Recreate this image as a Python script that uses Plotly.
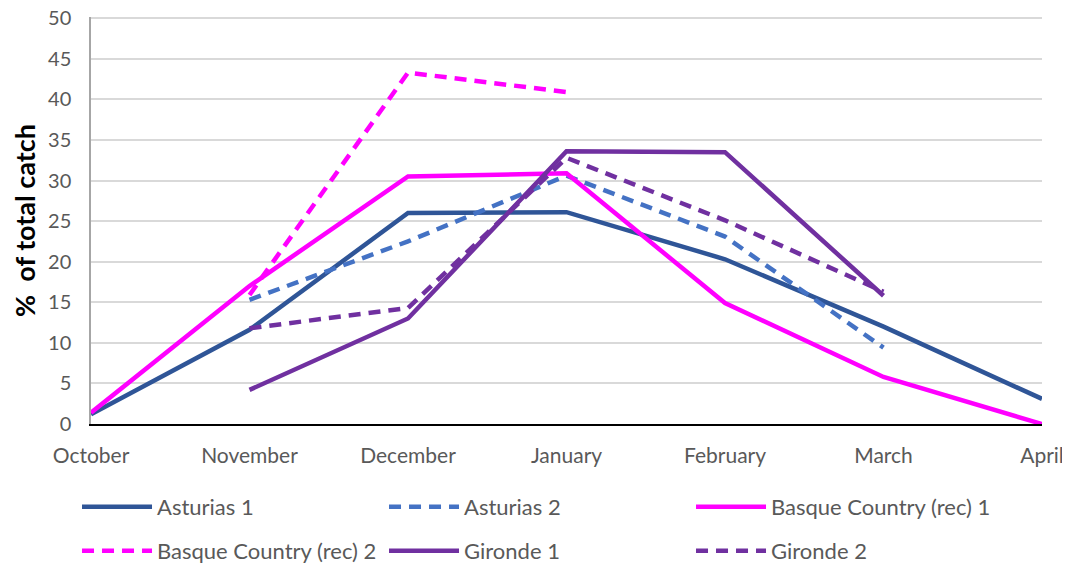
import plotly.graph_objects as go

months = ["October", "November", "December", "January", "February", "March", "April"]

asturias1 = [1.2, 11.6, 26.0, 26.1, 20.3, 12.0, 3.1]
asturias2 = [None, 15.3, 22.5, 30.6, 23.1, 9.4, None]
basque1 = [1.4, 17.0, 30.5, 30.9, 14.9, 5.8, 0.0]
basque2 = [None, 15.9, 43.3, 40.9, None, None, None]
gironde1 = [None, 4.2, 13.0, 33.6, 33.5, 15.8, None]
gironde2 = [None, 11.8, 14.3, 32.8, 25.1, 16.3, None]

series = [
    ("Asturias 1", asturias1, "#2F5597", "solid", "legend"),
    ("Asturias 2", asturias2, "#4472C4", "12px,8px", "legend"),
    ("Basque Country (rec) 1", basque1, "#FF00FF", "solid", "legend"),
    ("Basque Country (rec) 2", basque2, "#FF00FF", "12px,8px", "legend2"),
    ("Gironde 1", gironde1, "#7030A0", "solid", "legend2"),
    ("Gironde 2", gironde2, "#7030A0", "12px,8px", "legend2"),
]

FONT = "Lato"
W, H = 1070, 567
OFF = 8  # page body margin offset

fig = go.Figure()
for name, vals, color, dash, lg in series:
    fig.add_trace(go.Scatter(
        x=months, y=vals, name=name, mode="lines",
        line=dict(color=color, width=4.5, dash=dash),
        connectgaps=False, legend=lg,
    ))

legend_common = dict(
    orientation="h", xanchor="left", yanchor="middle",
    xref="container", yref="container",
    font=dict(family=FONT, size=22, color="#595959"),
    itemwidth=70, entrywidthmode="pixels", entrywidth=222,
    bgcolor="rgba(0,0,0,0)", itemclick=False, itemdoubleclick=False,
)

fig.update_layout(
    width=W, height=H,
    margin=dict(l=91 - OFF, r=W - 1042 + OFF, t=17 - OFF, b=H - 424 + OFF, autoexpand=False),
    plot_bgcolor="white", paper_bgcolor="white",
    font=dict(family=FONT, size=21, color="#595959"),
    showlegend=True,
    legend=dict(x=0.0645, y=1 - (507 - OFF) / H, **legend_common),
    legend2=dict(x=0.0645, y=1 - (551 - OFF) / H, **legend_common),
    xaxis=dict(
        type="category", range=[0, 6], automargin=False,
        showgrid=False, showline=True, linecolor="#000000", linewidth=1.5,
        ticks="", ticklabelstandoff=12, ticklabeloverflow="allow",
        tickfont=dict(family=FONT, size=21, color="#595959"),
        fixedrange=True,
    ),
    yaxis=dict(
        range=[0, 50.15], tickvals=[0, 5, 10, 15, 20, 25, 30, 35, 40, 45, 50], automargin=False,
        showgrid=True, gridcolor="#D9D9D9", gridwidth=1.5,
        showline=True, linecolor="#A6A6A6", linewidth=1.5, zeroline=False,
        ticks="", ticklabelstandoff=14, ticklabeloverflow="allow",
        tickfont=dict(family=FONT, size=20, color="#595959"),
        title=dict(text="<b>%  of total catch</b>", font=dict(family=FONT, size=27, color="#000000"), standoff=12),
        fixedrange=True,
    ),
)

fig.write_html("out.html")
